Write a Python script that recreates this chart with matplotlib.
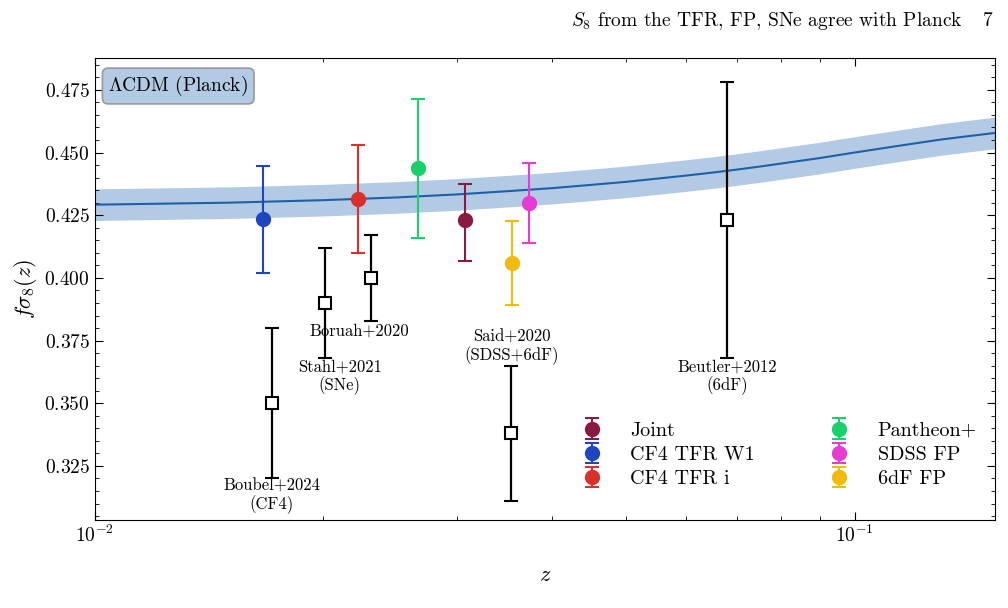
import matplotlib
matplotlib.use("Agg")
import matplotlib.pyplot as plt
import numpy as np

plt.rcParams['font.family'] = 'serif'
plt.rcParams['font.serif'] = ['cmr10', 'DejaVu Serif']
plt.rcParams['mathtext.fontset'] = 'cm'
plt.rcParams['axes.formatter.use_mathtext'] = True

# LCDM curve
model_z = [0.01, 0.015, 0.02, 0.025, 0.03, 0.035, 0.04, 0.045, 0.05, 0.055, 0.06, 0.065, 0.07,
           0.075, 0.08, 0.09, 0.1, 0.115, 0.13, 0.14, 0.153]
model_fs8 = [0.4292, 0.4300, 0.4310, 0.4321, 0.4333, 0.4346, 0.4358, 0.4371, 0.4383, 0.4396,
             0.4408, 0.4420, 0.4432, 0.4444, 0.4456, 0.4478, 0.4500, 0.4528, 0.4552, 0.4564, 0.4578]
model_err = 0.0063

names = ['Joint', 'CF4 TFR W1', 'CF4 TFR i', 'Pantheon+', 'SDSS FP', '6dF FP']
zs = [0.0307, 0.01664, 0.0222, 0.0266, 0.0373, 0.0354]
vals = [0.4231, 0.4235, 0.4315, 0.4439, 0.4300, 0.4058]
err_lo = [0.0163, 0.0215, 0.0215, 0.0279, 0.0160, 0.0168]
err_hi = [0.0144, 0.0211, 0.0215, 0.0275, 0.0160, 0.0168]
colors = ['#8B1A3F', '#1F45C0', '#D9302C', '#19D06A', '#E83BD6', '#F2B90F']

lit_names = ['Boubel+2024\n(CF4)', 'Stahl+2021\n(SNe)', 'Boruah+2020', 'Said+2020\n(SDSS+6dF)', 'Beutler+2012\n(6dF)']
lit_z = [0.0171, 0.0201, 0.0231, 0.0353, 0.068]
lit_val = [0.350, 0.390, 0.400, 0.338, 0.423]
lit_lo = [0.030, 0.022, 0.017, 0.027, 0.055]
lit_hi = [0.030, 0.022, 0.017, 0.027, 0.055]
lit_label_pos = [(0.0171, 0.3130), (0.0210, 0.3605), (0.0223, 0.3790), (0.0354, 0.3725), (0.068, 0.3605)]

fig = plt.figure(figsize=(10.08, 6.08), dpi=100)
ax = fig.add_axes([0.094, 0.145, 0.893, 0.76])

mz = np.array(model_z); mf = np.array(model_fs8)
ax.fill_between(mz, mf - model_err, mf + model_err, color='#B3CAE5', lw=0)
ax.plot(mz, mf, color='#1F5FA8', lw=1.5)

for zz, v, lo, hi in zip(lit_z, lit_val, lit_lo, lit_hi):
    ax.errorbar(zz, v, yerr=[[lo], [hi]], fmt='s', mfc='white', mec='black', mew=1.5,
                ms=8, color='black', capsize=5, elinewidth=1.6, capthick=1.6)
for t, (x, y) in zip(lit_names, lit_label_pos):
    ax.text(x, y, t, ha='center', va='center', fontsize=12, linespacing=1.1)

for n, zz, v, lo, hi, c in zip(names, zs, vals, err_lo, err_hi, colors):
    ax.errorbar(zz, v, yerr=[[lo], [hi]], fmt='o', color=c, ms=10, capsize=5,
                elinewidth=1.5, capthick=1.5, label=n)

ax.set_xscale('log')
ax.set_xlim(0.01, 0.153)
ax.set_ylim(0.3035, 0.4878)
ax.set_yticks([0.325, 0.35, 0.375, 0.4, 0.425, 0.45, 0.475])
ax.yaxis.set_minor_locator(matplotlib.ticker.MultipleLocator(0.005))
ax.tick_params(which='both', direction='in', top=True, right=True, labelsize=14)
ax.tick_params(which='major', length=6)
ax.tick_params(which='minor', length=3)
ax.set_xlabel(r'$z$', fontsize=16, labelpad=14)
ax.set_ylabel(r'$f\sigma_8(z)$', fontsize=16)

ax.text(0.015, 0.965, r'$\Lambda$CDM (Planck)', transform=ax.transAxes, fontsize=14,
        va='top', ha='left',
        bbox=dict(boxstyle='round,pad=0.3', fc='#B3CAE5', ec='#999999', lw=1.2))

ax.legend(loc='lower right', ncol=2, frameon=False, fontsize=14.5, columnspacing=3.2,
          handletextpad=0.9, labelspacing=0.3, bbox_to_anchor=(1.0, 0.03))

fig.text(0.955, 0.965, r'$S_8$ from the TFR, FP, SNe agree with Planck', ha='right', va='center',
         fontsize=14, style='italic')
fig.text(0.985, 0.965, '7', ha='right', va='center', fontsize=14)

fig.savefig('out.png', dpi=100)
